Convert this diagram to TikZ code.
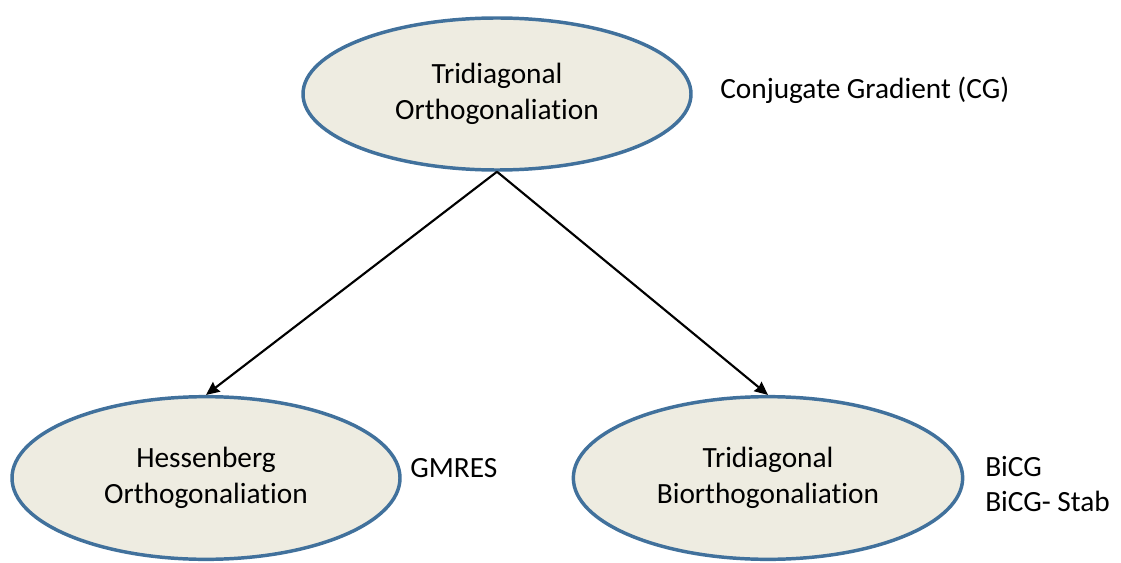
\documentclass[tikz,border=0pt]{standalone}
\usepackage{fontspec}
\setmainfont{Carlito}[Ligatures=NoCommon]
\usetikzlibrary{shapes.geometric,arrows.meta}
\definecolor{rimblue}{HTML}{41719C}
\definecolor{tanfill}{HTML}{EEECE1}
\tikzset{
  methodnode/.style={draw=rimblue, line width=2.6pt, fill=tanfill, ellipse, align=center,
    font=\fontsize{22}{26.5}\selectfont, inner sep=0pt},
  sidenote/.style={anchor=west, align=left, font=\fontsize{22}{26.5}\selectfont, inner sep=0pt},
  link/.style={-{Stealth[length=10pt,width=9pt,inset=1pt]}, line width=1.6pt}
}
\begin{document}
\begin{tikzpicture}[x=0.75pt,y=-0.75pt]
  \useasboundingbox (0,0) rectangle (1121,563);
  \node at (497,94) [methodnode, minimum width=291pt, minimum height=114pt] (T) {Tridiagonal\\Orthogonaliation};
  \node at (206,478) [methodnode, minimum width=291pt, minimum height=122pt] (H) {Hessenberg\\Orthogonaliation};
  \node at (768,478) [methodnode, minimum width=292pt, minimum height=122pt] (B) {Tridiagonal\\Biorthogonaliation};
  \draw[link] (T.south) -- (H.north);
  \draw[link] (T.south) -- (B.north);
  \node at (720,90) [sidenote] (cg) {Conjugate Gradient (CG)};
  \node at (410,468) [sidenote] (gm) {GMRES};
  \node at (985,484) [sidenote] (bi) {BiCG\\BiCG- Stab};
\end{tikzpicture}
\end{document}
